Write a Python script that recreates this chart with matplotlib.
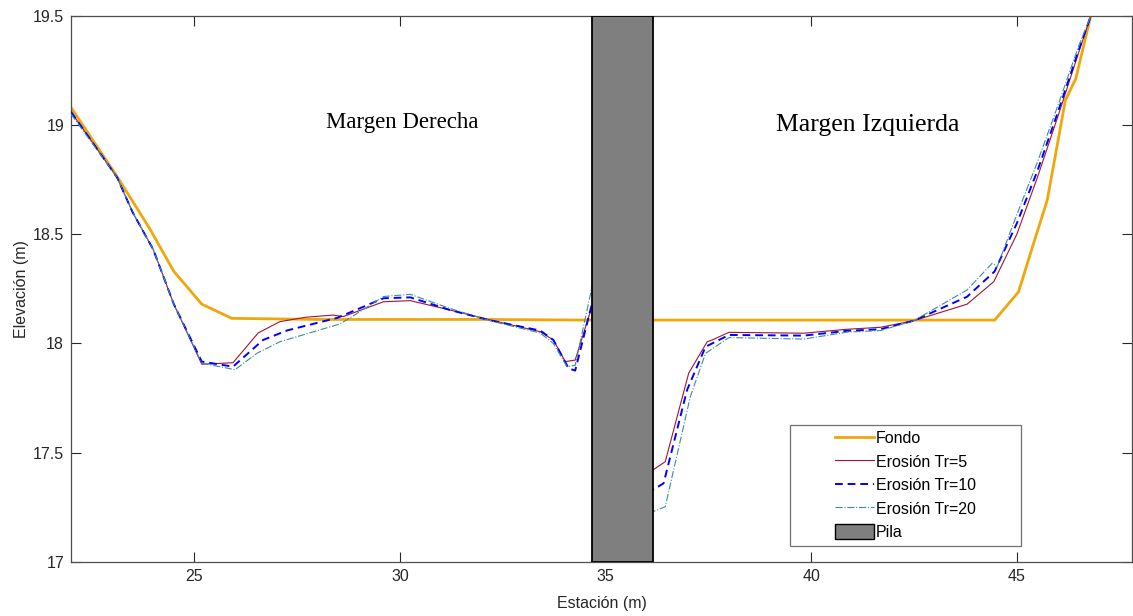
import matplotlib.pyplot as plt
from matplotlib.patches import Patch
from matplotlib.lines import Line2D
from matplotlib.legend_handler import HandlerTuple

# perfil del fondo
x_fondo = [22.0, 23.1, 23.5, 23.9, 24.5, 25.18, 25.91, 28.0, 30.0, 32.0, 34.67,
           36.15, 38.0, 40.0, 42.0, 44.46, 45.04, 45.41, 45.74, 46.18, 46.43, 46.8]
y_fondo = [19.08, 18.77, 18.65, 18.53, 18.33, 18.18, 18.115, 18.11, 18.11, 18.11, 18.107,
           18.107, 18.107, 18.107, 18.107, 18.107, 18.236, 18.46, 18.657, 19.114, 19.21, 19.5]

# erosion Tr=5
x_tr5 = [22.0, 23.12, 23.5, 24.0, 24.5, 25.18, 25.94, 26.55, 27.08, 27.7, 28.37, 28.62,
         29.6, 30.25, 31.22, 32.19, 33.41, 33.73, 34.02, 34.26, 34.64, 34.75,
         36.15, 36.45, 37.02, 37.47, 37.59, 38.0, 39.82, 40.87, 41.68, 42.49,
         43.79, 44.44, 45.0, 45.5, 46.0, 46.5, 46.8]
y_tr5 = [19.06, 18.76, 18.6, 18.43, 18.18, 17.905, 17.912, 18.048, 18.10, 18.12, 18.13, 18.123,
         18.191, 18.196, 18.153, 18.108, 18.054, 18.016, 17.917, 17.924, 18.153, 18.22,
         17.421, 17.459, 17.864, 18.008, 18.016, 18.051, 18.047, 18.065, 18.074, 18.104,
         18.18, 18.283, 18.5, 18.76, 19.04, 19.33, 19.5]

# erosion Tr=10
x_tr10 = [22.0, 23.12, 23.5, 24.0, 24.5, 25.18, 25.94, 26.67, 27.26, 28.47,
          29.6, 30.25, 31.22, 32.19, 33.41, 33.73, 34.1, 34.26, 34.65, 34.75,
          36.15, 36.41, 36.98, 37.43, 38.0, 39.82, 40.87, 41.68, 42.49,
          43.79, 44.46, 45.0, 45.5, 46.0, 46.5, 46.8]
y_tr10 = [19.06, 18.76, 18.6, 18.43, 18.18, 17.917, 17.894, 18.016, 18.06, 18.117,
          18.207, 18.211, 18.153, 18.106, 18.059, 18.016, 17.886, 17.876, 18.168, 18.25,
          17.33, 17.36, 17.787, 17.985, 18.039, 18.036, 18.058, 18.065, 18.104,
          18.214, 18.33, 18.55, 18.79, 19.06, 19.34, 19.5]

# erosion Tr=20
x_tr20 = [22.0, 23.12, 23.5, 24.0, 24.5, 25.18, 25.99, 26.52, 27.08, 28.55, 28.86,
          29.6, 30.25, 31.22, 32.19, 33.41, 33.73, 34.06, 34.26, 34.67, 34.75,
          36.15, 36.45, 37.06, 37.43, 38.0, 39.82, 40.87, 41.68, 42.49,
          43.79, 44.4, 44.52, 45.0, 45.5, 46.0, 46.5, 46.8]
y_tr20 = [19.05, 18.76, 18.6, 18.43, 18.18, 17.91, 17.88, 17.955, 18.008, 18.09, 18.126,
          18.215, 18.225, 18.16, 18.104, 18.048, 18.0, 17.894, 17.90, 18.26, 18.3,
          17.23, 17.253, 17.757, 17.955, 18.027, 18.02, 18.052, 18.059, 18.104,
          18.245, 18.367, 18.351, 18.59, 18.83, 19.09, 19.36, 19.5]

pila_x = [34.67, 36.15]

x_ticks = [25, 30, 35, 40, 45]
y_ticks = [17, 17.5, 18, 18.5, 19, 19.5]
y_labels = ['17', '17.5', '18', '18.5', '19', '19.5']

c_fondo = '#F0A70A'
c_tr5 = '#A2142F'
c_tr10 = '#0000FF'
c_tr20 = '#3C8CA0'
dash10 = (0, (4, 2.5))

plt.rcParams['font.family'] = ['Liberation Sans', 'DejaVu Sans']

fig = plt.figure(figsize=(11.33, 6.16), dpi=100)
ax = fig.add_axes([71/1133, 54/616, 1061/1133, 546.3/616])

ax.plot(x_fondo, y_fondo, color=c_fondo, lw=2.0, zorder=2)
ax.plot(x_tr5, y_tr5, color=c_tr5, lw=0.8, zorder=3)
ax.plot(x_tr10, y_tr10, color=c_tr10, lw=1.4, ls=dash10, zorder=3)
ax.plot(x_tr20, y_tr20, color=c_tr20, lw=0.8, ls='-.', zorder=3)

ax.axvspan(pila_x[0], pila_x[1], facecolor='#7F7F7F', edgecolor='black', lw=1.3, zorder=5)

ax.text(30.05, 19.01, 'Margen Derecha', family='Liberation Serif', fontsize=16.5,
        ha='center', va='center')
ax.text(41.37, 19.0, 'Margen Izquierda', family='Liberation Serif', fontsize=18.5,
        ha='center', va='center')

ax.set_xlim(22, 47.8)
ax.set_ylim(17, 19.5)
ax.set_xticks(x_ticks)
ax.set_yticks(y_ticks)
ax.set_yticklabels(y_labels)
ax.tick_params(direction='in', length=7, width=0.8, top=True, right=True,
               labelsize=11.5, colors='#262626', pad=5)
for s in ax.spines.values():
    s.set_color('#4D4D4D')
    s.set_linewidth(0.9)

ax.set_xlabel('Estación (m)', fontsize=11.5, color='#262626', labelpad=9)
ax.set_ylabel('Elevación (m)', fontsize=11.5, color='#262626', labelpad=3)

# leyenda: primera mitad del handle invisible para dejar el hueco a la izquierda
blank = Line2D([], [], lw=0)
blank_p = Patch(facecolor='none', edgecolor='none')
handles = [
    (blank, Line2D([], [], color=c_fondo, lw=2.0)),
    (blank, Line2D([], [], color=c_tr5, lw=0.8)),
    (blank, Line2D([], [], color=c_tr10, lw=1.4, ls=dash10)),
    (blank, Line2D([], [], color=c_tr20, lw=0.8, ls='-.')),
    (blank_p, Patch(facecolor='#7F7F7F', edgecolor='black', lw=1.0)),
]
labels = ['Fondo', 'Erosión Tr=5', 'Erosión Tr=10', 'Erosión Tr=20', 'Pila']
leg = ax.legend(handles, labels, loc='lower left', bbox_to_anchor=(0.678, 0.03, 0.217, 0.222),
                mode='expand', fontsize=11.5, frameon=True, fancybox=False,
                handler_map={tuple: HandlerTuple(ndivide=2, pad=0)},
                handlelength=4.9, handleheight=1.1, handletextpad=0.1,
                labelspacing=0.46, borderpad=0.35, borderaxespad=0)
leg.get_frame().set_edgecolor('#4D4D4D')
leg.get_frame().set_linewidth(0.9)
leg.set_zorder(10)

fig.savefig('out.png', dpi=100)
